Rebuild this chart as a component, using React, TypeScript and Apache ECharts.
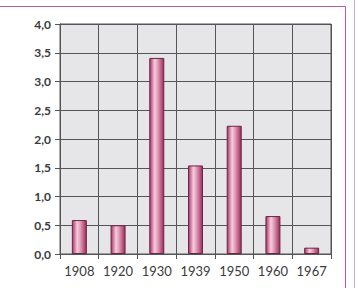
import React, { useEffect, useRef } from "react";
import * as echarts from "echarts";

const categories = ["1908", "1920", "1930", "1939", "1950", "1960", "1967"];
const values = [0.59, 0.5, 3.41, 1.54, 2.23, 0.66, 0.11];
const yMin = 0;
const yMax = 4;
const yInterval = 0.5;

export default function App() {
  const ref = useRef<HTMLDivElement>(null);
  useEffect(() => {
    if (!ref.current) return;
    const chart = echarts.init(ref.current, null, { renderer: "svg" });
    const axisColor = "#555555";
    chart.setOption({
      animation: false,
      backgroundColor: "#ffffff",
      grid: {
        left: 60,
        right: 27,
        top: 24,
        bottom: 34,
        show: true,
        backgroundColor: "#e6e6e8",
        borderColor: axisColor,
        borderWidth: 1,
      },
      xAxis: {
        type: "category",
        data: categories,
        boundaryGap: true,
        axisLine: { show: true, lineStyle: { color: axisColor, width: 1 } },
        axisTick: { show: true, alignWithLabel: false, length: 5, lineStyle: { color: axisColor } },
        splitLine: { show: true, interval: 0, lineStyle: { color: axisColor, width: 1 } },
        axisLabel: {
          margin: 10,
          color: "#3a3a3a",
          fontFamily: "Lato",
          fontSize: 13,
          interval: 0,
        },
      },
      yAxis: {
        type: "value",
        min: yMin,
        max: yMax,
        interval: yInterval,
        axisLine: { show: true, lineStyle: { color: axisColor, width: 1 } },
        axisTick: { show: true, length: 5, lineStyle: { color: axisColor } },
        splitLine: { show: true, lineStyle: { color: axisColor, width: 1 } },
        axisLabel: {
          margin: 9,
          color: "#3a3a3a",
          fontFamily: "Lato",
          fontWeight: "bold",
          fontSize: 12,
          formatter: (v: number) => v.toFixed(1).replace(".", ","),
        },
      },
      series: [
        {
          type: "bar",
          data: values,
          barWidth: 15,
          itemStyle: {
            borderColor: "#6e2444",
            borderWidth: 1,
            color: new echarts.graphic.LinearGradient(0, 0, 1, 0, [
              { offset: 0, color: "#a8346a" },
              { offset: 0.35, color: "#f6cddc" },
              { offset: 0.55, color: "#e4a0bc" },
              { offset: 1, color: "#9c2c5c" },
            ]),
          },
        },
      ],
      graphic: [
        {
          type: "polyline",
          silent: true,
          shape: { points: [[0, 6.5], [345.5, 6.5], [345.5, 288]] },
          style: { stroke: "#c75a92", lineWidth: 1, fill: null },
        },
        {
          type: "line",
          silent: true,
          shape: { x1: 354.5, y1: 0, x2: 354.5, y2: 288 },
          style: { stroke: "#d6a4cc", lineWidth: 1 },
        },
      ],
    });
    return () => chart.dispose();
  }, []);
  return (
    <div
      ref={ref}
      style={{ position: "absolute", left: 0, top: 0, width: 358, height: 288 }}
    />
  );
}
